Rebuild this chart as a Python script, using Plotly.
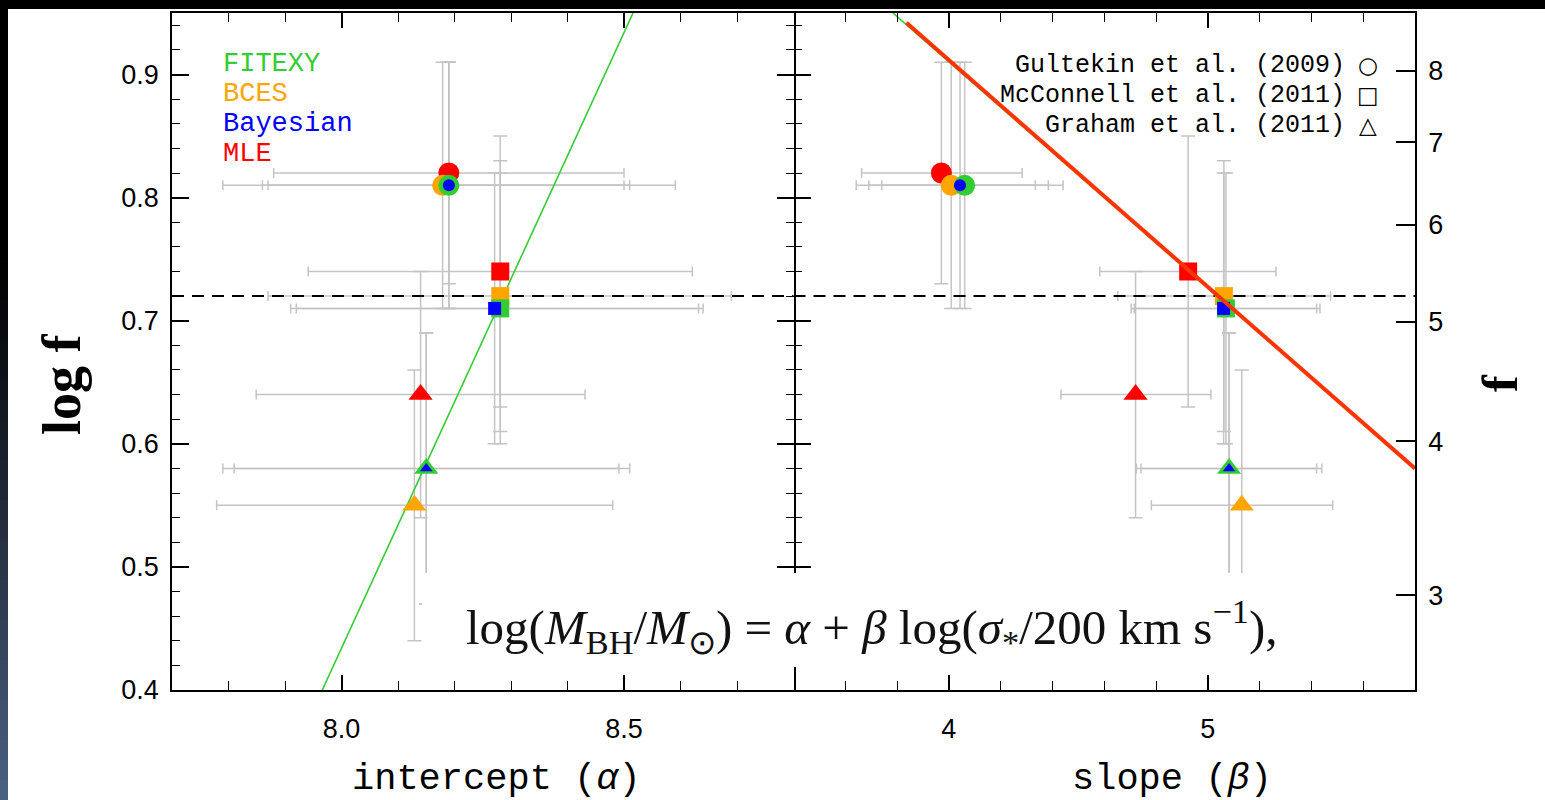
import math
import plotly.graph_objects as go

# ---------------- data ----------------
methods = ["MLE", "BCES", "FITEXY", "Bayesian"]
method_colors = ["#ff0000", "#ffa500", "#32cd32", "#0000ff"]
samples = ["Gultekin et al. (2009)", "McConnell et al. (2011)", "Graham et al. (2011)"]
sample_symbols = ["circle", "square", "triangle-up"]
sample_glyphs = ["\u25cb", "\u25a1", "\u25b3"]

# order: for each sample (G09, M11, G11) the four methods (MLE, BCES, FITEXY, Bayesian)
point_sample = [0, 0, 0, 0, 1, 1, 1, 1, 2, 2, 2, 2]
point_method = [0, 1, 2, 3, 0, 1, 2, 3, 0, 1, 2, 3]
alpha    = [8.190, 8.179, 8.190, 8.190, 8.281, 8.281, 8.281, 8.271, 8.140, 8.129, 8.150, 8.150]
alpha_lo = [7.880, 7.790, 7.860, 7.870, 7.941, 7.870, 7.910, 7.920, 7.849, 7.779, 7.790, 7.810]
alpha_hi = [8.500, 8.591, 8.510, 8.500, 8.621, 8.690, 8.640, 8.632, 8.431, 8.480, 8.510, 8.491]
beta     = [3.971, 4.009, 4.061, 4.043, 4.924, 5.062, 5.070, 5.061, 4.721, 5.131, 5.082, 5.082]
beta_lo  = [3.663, 3.642, 3.691, 3.741, 4.583, 4.652, 4.704, 4.716, 4.433, 4.782, 4.724, 4.742]
beta_hi  = [4.283, 4.384, 4.441, 4.334, 5.263, 5.474, 5.433, 5.420, 5.012, 5.482, 5.440, 5.420]
logf     = [0.82, 0.81, 0.81, 0.81, 0.74, 0.72, 0.71, 0.71, 0.64, 0.55, 0.58, 0.58]
logf_lo  = [0.73, 0.71, 0.71, 0.71, 0.63, 0.61, 0.60, 0.60, 0.54, 0.44, 0.47, 0.47]
logf_hi  = [0.91, 0.91, 0.91, 0.91, 0.85, 0.83, 0.82, 0.82, 0.74, 0.66, 0.69, 0.69]

# relation lines
fit_left_alpha = [7.966, 8.516]
fit_left_logf = [0.40, 0.95]
fit_right_beta = [3.784, 5.80]
fit_right_logf = [0.95, 0.5797]
mle_right_beta = [3.836, 5.80]
mle_right_logf = [0.942, 0.580]
logf_ref = 0.72

# axes
alpha_range = [7.7, 8.8]
beta_range = [3.4, 5.8]
logf_range = [0.4, 0.95]
alpha_ticks = [8.0, 8.5]
alpha_ticktext = ["8.0", "8.5"]
beta_ticks = [4, 5]
beta_ticktext = ["4", "5"]
logf_ticks = [0.4, 0.5, 0.6, 0.7, 0.8, 0.9]
logf_ticktext = ["0.4", "0.5", "0.6", "0.7", "0.8", "0.9"]
f_ticks = [3, 4, 5, 6, 7, 8]

formula = ("log(<i>M</i><sub>BH</sub>/<i>M</i><sub>\u2299</sub>) = <i>\u03b1</i> + "
           "<i>\u03b2</i> log(<i>\u03c3</i><sub>*</sub>/200 km s<sup>\u22121</sup>),")

# ---------------- figure ----------------
W, H = 1545, 800
L, R, T, B = 172, 1415, 13, 690


def px(xp):
    return (xp - L) / (R - L)


def py(yp):
    return (B - yp) / (B - T)


ERR = "#c4c4c4"
fig = go.Figure()

panels = [("x", "y", alpha, alpha_lo, alpha_hi, alpha_range),
          ("x2", "y2", beta, beta_lo, beta_hi, beta_range)]

for xa, ya, xv, xlo, xhi, xr in panels:
    fig.add_trace(go.Scatter(
        x=xv, y=logf, xaxis=xa, yaxis=ya, mode="markers",
        marker=dict(size=1, color="rgba(0,0,0,0)"),
        error_x=dict(type="data", symmetric=False,
                     array=[h - v for h, v in zip(xhi, xv)],
                     arrayminus=[v - l for v, l in zip(xv, xlo)],
                     color=ERR, thickness=1.5, width=5),
        error_y=dict(type="data", symmetric=False,
                     array=[h - v for h, v in zip(logf_hi, logf)],
                     arrayminus=[v - l for v, l in zip(logf, logf_lo)],
                     color=ERR, thickness=1.5, width=7),
        hoverinfo="skip", showlegend=False))
    fig.add_trace(go.Scatter(
        x=xr, y=[logf_ref, logf_ref], xaxis=xa, yaxis=ya, mode="lines",
        line=dict(color="black", width=2, dash="12px,8px"),
        hoverinfo="skip", showlegend=False))

size_big = {"circle": 21, "square": 18, "triangle-up": 21}
size_small = {"circle": 12, "square": 13, "triangle-up": 11}

fig.add_trace(go.Scatter(x=fit_left_alpha, y=fit_left_logf, xaxis="x", yaxis="y",
                         mode="lines", line=dict(color="#33cc33", width=1.6),
                         hoverinfo="skip", showlegend=False))

for xa, ya, xv, _, _, _ in panels:
    for m in range(len(methods)):
        idx = [i for i in range(len(point_method)) if point_method[i] == m]
        syms = [sample_symbols[point_sample[i]] for i in idx]
        sizes = [(size_small if m == 3 else size_big)[s] for s in syms]
        fig.add_trace(go.Scatter(
            x=[xv[i] for i in idx], y=[logf[i] for i in idx],
            xaxis=xa, yaxis=ya, mode="markers", name=methods[m],
            marker=dict(symbol=syms, size=sizes, color=method_colors[m],
                        opacity=1, line=dict(width=0)),
            showlegend=False))

fig.add_trace(go.Scatter(x=fit_right_beta, y=fit_right_logf, xaxis="x2", yaxis="y2",
                         mode="lines", line=dict(color="#33cc33", width=1.6),
                         hoverinfo="skip", showlegend=False))
fig.add_trace(go.Scatter(x=mle_right_beta, y=mle_right_logf, xaxis="x2", yaxis="y2",
                         mode="lines", line=dict(color="#ff3300", width=4),
                         hoverinfo="skip", showlegend=False))
# dummy trace for the f axis
fig.add_trace(go.Scatter(x=[5.0], y=[0.6], xaxis="x2", yaxis="y3", mode="markers",
                         marker=dict(size=1, color="rgba(0,0,0,0)"),
                         hoverinfo="skip", showlegend=False))

tickfont = dict(family="Liberation Sans, Arial, sans-serif", size=27, color="black")
axcommon = dict(showgrid=False, zeroline=False, linecolor="black",
                linewidth=1.5, ticks="inside", tickcolor="black", tickwidth=1.5,
                tickfont=tickfont)

y_minor = [round(0.42 + 0.02 * k, 2) for k in range(27)]
y_minor = [v for v in y_minor if abs(v * 10 - round(v * 10)) > 1e-6]

fig.update_layout(
    width=W, height=H,
    margin=dict(l=L, r=W - R, t=T, b=H - B, pad=0),
    paper_bgcolor="white", plot_bgcolor="white",
    showlegend=False,
    xaxis=dict(domain=[0, 0.5], range=alpha_range, anchor="y", showline=True,
               tickvals=alpha_ticks, ticktext=alpha_ticktext, ticklen=15,
               mirror="ticks", ticklabelstandoff=14,
               minor=dict(tickvals=[7.8, 7.9, 8.1, 8.2, 8.3, 8.4, 8.6, 8.7],
                          ticklen=9, ticks="inside", tickcolor="black", tickwidth=1.3),
               **axcommon),
    xaxis2=dict(domain=[0.5, 1], range=beta_range, anchor="y2", showline=True,
                tickvals=beta_ticks, ticktext=beta_ticktext, ticklen=15,
                mirror="ticks", ticklabelstandoff=14,
                minor=dict(tickvals=[3.6, 3.8, 4.2, 4.4, 4.6, 4.8, 5.2, 5.4, 5.6],
                           ticklen=9, ticks="inside", tickcolor="black", tickwidth=1.3),
                **axcommon),
    yaxis=dict(domain=[0, 1], range=logf_range, anchor="x", showline=True,
               tickvals=logf_ticks, ticktext=logf_ticktext, ticklen=17,
               mirror="ticks", ticklabelstandoff=6,
               minor=dict(tickvals=y_minor, ticklen=8, ticks="inside",
                          tickcolor="black", tickwidth=1.3),
               **axcommon),
    yaxis2=dict(domain=[0, 1], range=logf_range, anchor="x2", showline=False,
                tickvals=logf_ticks, ticklen=17, showticklabels=False, mirror=False,
                minor=dict(tickvals=y_minor, ticklen=8, ticks="inside",
                           tickcolor="black", tickwidth=1.3),
                **axcommon),
    yaxis3=dict(overlaying="y2", anchor="x2", side="right", range=logf_range,
                showline=True,
                tickvals=[math.log10(v) for v in f_ticks],
                ticktext=[str(v) for v in f_ticks], ticklen=19,
                ticklabelstandoff=6, **axcommon),
)

shapes = []
# formula box
shapes.append(dict(type="rect", xref="paper", yref="paper", x0=px(422), x1=px(1290),
                   y0=py(667), y1=py(573), fillcolor="white", line=dict(width=0),
                   layer="above"))
# top black band
shapes.append(dict(type="rect", xref="paper", yref="paper", x0=px(0), x1=px(W),
                   y0=py(9), y1=py(0), fillcolor="black", line=dict(width=0),
                   layer="above"))
# left dark gradient strip
nseg = 40
for k in range(nseg):
    y0p = k * H / nseg
    y1p = (k + 1) * H / nseg
    t = max(0.0, ((y0p + y1p) / 2 - 250) / 550)
    t = t ** 1.1
    col = "rgb(%d,%d,%d)" % (int(76 * t), int(98 * t), int(132 * t))
    shapes.append(dict(type="rect", xref="paper", yref="paper", x0=px(0), x1=px(8),
                       y0=py(y1p), y1=py(y0p), fillcolor=col, line=dict(width=0),
                       layer="above"))
fig.update_layout(shapes=shapes)

ann = []
legfont = "Liberation Mono, Courier New, monospace"
for i, (name, col) in enumerate(zip(["FITEXY", "BCES", "Bayesian", "MLE"],
                                    ["#33cc33", "#ffa500", "#0000ff", "#ff0000"])):
    ann.append(dict(text=name, x=px(221), y=py(64 + 30 * i), xref="paper", yref="paper",
                    xanchor="left", yanchor="middle", showarrow=False,
                    font=dict(family=legfont, size=27, color=col)))
for i, (name, g) in enumerate(zip(samples, sample_glyphs)):
    ann.append(dict(text=name, x=px(1347), y=py(65 + 30 * i), xref="paper", yref="paper",
                    xanchor="right", yanchor="middle", showarrow=False,
                    font=dict(family=legfont, size=25, color="black")))
    ann.append(dict(text=g, x=px(1368), y=py(65 + 30 * i), xref="paper", yref="paper",
                    xanchor="center", yanchor="middle", showarrow=False,
                    font=dict(family="DejaVu Sans", size=23, color="black")))
ann.append(dict(text="intercept (<i>\u03b1</i>)", x=px(496), y=py(779), xref="paper",
                yref="paper", xanchor="center", yanchor="middle", showarrow=False,
                font=dict(family=legfont, size=37, color="black")))
ann.append(dict(text="slope (<i>\u03b2</i>)", x=px(1172), y=py(779), xref="paper",
                yref="paper", xanchor="center", yanchor="middle", showarrow=False,
                font=dict(family=legfont, size=37, color="black")))
ann.append(dict(text="<b>log f</b>", x=px(62), y=py(384), xref="paper", yref="paper",
                xanchor="center", yanchor="middle", showarrow=False, textangle=-90,
                font=dict(family="Liberation Serif, Times New Roman, serif", size=54,
                          color="black")))
ann.append(dict(text="<b>f</b>", x=px(1500), y=py(383), xref="paper", yref="paper",
                xanchor="center", yanchor="middle", showarrow=False, textangle=-90,
                font=dict(family="Liberation Serif, Times New Roman, serif", size=50,
                          color="black")))
ann.append(dict(text=formula, x=px(872), y=py(626), xref="paper", yref="paper",
                xanchor="center", yanchor="middle", showarrow=False,
                font=dict(family="Liberation Serif, Times New Roman, serif", size=49,
                          color="#111111")))
fig.update_layout(annotations=ann)

fig.write_html("out.html")
